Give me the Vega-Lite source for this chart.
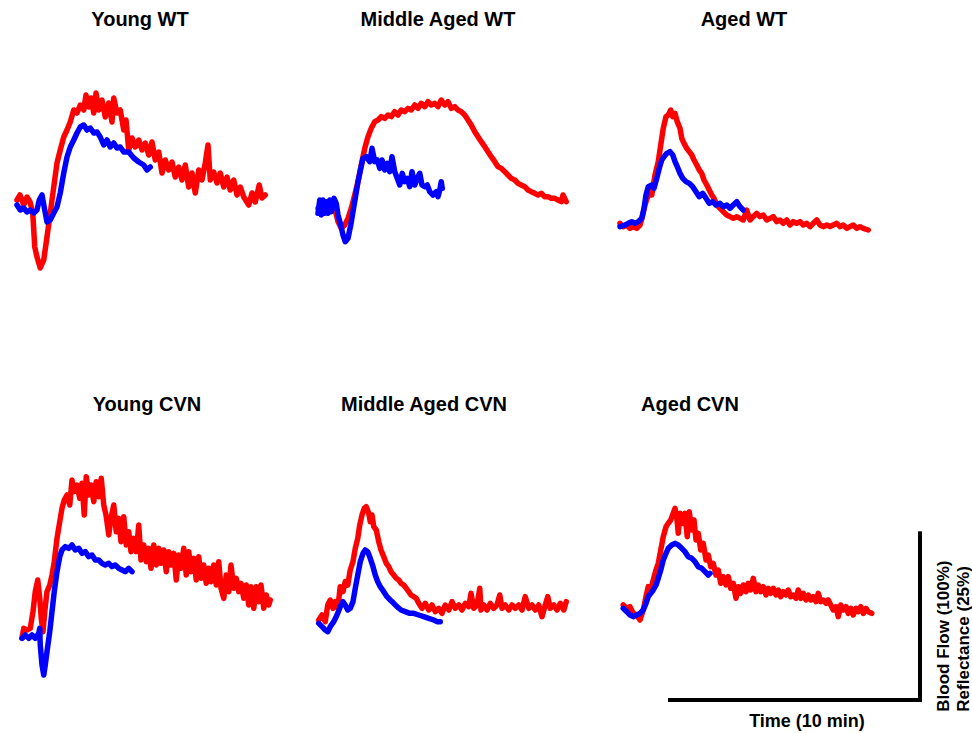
{
"$schema": "https://vega.github.io/schema/vega-lite/v6.json",
"padding": {"left": 14, "top": 10, "right": 0, "bottom": 0},
"background": "white",
"config": {
  "view": {"stroke": null},
  "line": {"strokeWidth": 5.5, "strokeJoin": "round", "strokeCap": "round"},
  "title": {"font": "Liberation Sans", "fontSize": 20, "fontWeight": "bold", "color": "#000000", "anchor": "middle", "frame": "group", "offset": 15}
},
"datasets": {
"YWT_flow": [{"t":0.04,"v":87},{"t":0.16,"v":90},{"t":0.31,"v":84},{"t":0.44,"v":88.8},{"t":0.56,"v":85.8},{"t":0.67,"v":79.2},{"t":0.75,"v":58.8},{"t":0.84,"v":52.8},{"t":0.97,"v":46.2},{"t":1.11,"v":51},{"t":1.24,"v":64.8},{"t":1.37,"v":79.2},{"t":1.51,"v":94.8},{"t":1.64,"v":109.2},{"t":1.77,"v":117},{"t":1.91,"v":124.8},{"t":2.04,"v":129},{"t":2.17,"v":133.8},{"t":2.31,"v":141},{"t":2.44,"v":139.2},{"t":2.57,"v":144},{"t":2.71,"v":141},{"t":2.8,"v":150},{"t":2.91,"v":142.8},{"t":3.01,"v":148.2},{"t":3.11,"v":139.2},{"t":3.2,"v":151.2},{"t":3.31,"v":141},{"t":3.44,"v":147},{"t":3.57,"v":136.8},{"t":3.71,"v":145.2},{"t":3.84,"v":133.8},{"t":3.91,"v":148.2},{"t":4.04,"v":139.2},{"t":4.17,"v":141},{"t":4.31,"v":129},{"t":4.4,"v":135},{"t":4.51,"v":117},{"t":4.64,"v":124.2},{"t":4.77,"v":118.8},{"t":4.91,"v":123},{"t":5.04,"v":117},{"t":5.17,"v":121.2},{"t":5.31,"v":114},{"t":5.44,"v":121.8},{"t":5.57,"v":111},{"t":5.71,"v":115.8},{"t":5.84,"v":103.2},{"t":5.97,"v":111},{"t":6.11,"v":105},{"t":6.24,"v":109.8},{"t":6.37,"v":100.8},{"t":6.51,"v":106.8},{"t":6.64,"v":99},{"t":6.77,"v":108},{"t":6.91,"v":94.8},{"t":7.04,"v":103.2},{"t":7.17,"v":91.2},{"t":7.31,"v":105},{"t":7.44,"v":99},{"t":7.57,"v":109.2},{"t":7.68,"v":120},{"t":7.77,"v":99},{"t":7.91,"v":103.8},{"t":8.04,"v":97.2},{"t":8.17,"v":103.2},{"t":8.31,"v":94.8},{"t":8.44,"v":100.8},{"t":8.57,"v":93},{"t":8.71,"v":99},{"t":8.84,"v":90},{"t":8.97,"v":94.8},{"t":9.11,"v":88.8},{"t":9.31,"v":84},{"t":9.44,"v":91.2},{"t":9.57,"v":85.8},{"t":9.73,"v":96},{"t":9.84,"v":88.2},{"t":9.97,"v":90}],
"YWT_refl": [{"t":0.04,"v":84},{"t":0.17,"v":81},{"t":0.31,"v":82.2},{"t":0.44,"v":79.8},{"t":0.57,"v":81},{"t":0.71,"v":79.2},{"t":0.84,"v":81},{"t":0.93,"v":87},{"t":1.04,"v":90},{"t":1.15,"v":81},{"t":1.24,"v":73.8},{"t":1.37,"v":75},{"t":1.51,"v":79.2},{"t":1.64,"v":82.8},{"t":1.77,"v":91.2},{"t":1.91,"v":103.2},{"t":2.04,"v":112.8},{"t":2.17,"v":118.8},{"t":2.31,"v":123},{"t":2.44,"v":127.2},{"t":2.57,"v":130.8},{"t":2.71,"v":132},{"t":2.84,"v":129},{"t":2.97,"v":130.2},{"t":3.11,"v":127.2},{"t":3.24,"v":127.8},{"t":3.37,"v":124.8},{"t":3.51,"v":120},{"t":3.64,"v":123},{"t":3.77,"v":118.8},{"t":3.91,"v":121.2},{"t":4.04,"v":118.2},{"t":4.17,"v":118.8},{"t":4.31,"v":115.8},{"t":4.51,"v":115.8},{"t":4.71,"v":112.2},{"t":4.91,"v":109.8},{"t":5.11,"v":108},{"t":5.24,"v":105},{"t":5.37,"v":106.8}],
"MAWT_flow": [{"t":0,"v":82},{"t":0.4,"v":83},{"t":0.67,"v":82},{"t":0.8,"v":74},{"t":0.93,"v":70},{"t":1.07,"v":72},{"t":1.2,"v":76},{"t":1.33,"v":82},{"t":1.47,"v":90},{"t":1.6,"v":98},{"t":1.73,"v":108},{"t":1.87,"v":118},{"t":2,"v":125},{"t":2.13,"v":130},{"t":2.27,"v":134},{"t":2.4,"v":135},{"t":2.53,"v":137},{"t":2.67,"v":136},{"t":2.8,"v":138},{"t":2.93,"v":137},{"t":3.07,"v":140},{"t":3.2,"v":138},{"t":3.33,"v":141},{"t":3.47,"v":140},{"t":3.6,"v":142},{"t":3.73,"v":141},{"t":3.87,"v":144},{"t":4,"v":142},{"t":4.13,"v":145},{"t":4.27,"v":143},{"t":4.4,"v":146},{"t":4.53,"v":144},{"t":4.67,"v":145},{"t":4.8,"v":143},{"t":4.93,"v":147},{"t":5.07,"v":144},{"t":5.2,"v":146},{"t":5.33,"v":142},{"t":5.47,"v":143},{"t":5.6,"v":141},{"t":5.73,"v":140},{"t":5.87,"v":138},{"t":6,"v":135},{"t":6.13,"v":132},{"t":6.27,"v":128},{"t":6.4,"v":125},{"t":6.53,"v":122},{"t":6.67,"v":119},{"t":6.8,"v":116},{"t":6.93,"v":113},{"t":7.07,"v":110},{"t":7.2,"v":107},{"t":7.33,"v":106},{"t":7.47,"v":104},{"t":7.6,"v":102},{"t":7.73,"v":100},{"t":7.87,"v":99},{"t":8,"v":97},{"t":8.13,"v":96},{"t":8.27,"v":95},{"t":8.4,"v":93},{"t":8.53,"v":92},{"t":8.67,"v":91},{"t":8.8,"v":90},{"t":8.93,"v":91},{"t":9.07,"v":89},{"t":9.2,"v":89},{"t":9.33,"v":88},{"t":9.47,"v":88},{"t":9.6,"v":87},{"t":9.73,"v":86},{"t":9.8,"v":90},{"t":9.93,"v":86}],
"MAWT_refl": [{"t":0,"v":79},{"t":0.07,"v":87},{"t":0.13,"v":78},{"t":0.2,"v":87},{"t":0.27,"v":79},{"t":0.33,"v":86},{"t":0.4,"v":79},{"t":0.47,"v":87},{"t":0.53,"v":80},{"t":0.64,"v":88},{"t":0.73,"v":85},{"t":0.8,"v":78},{"t":0.91,"v":72},{"t":1,"v":66},{"t":1.09,"v":62},{"t":1.2,"v":64},{"t":1.31,"v":72},{"t":1.4,"v":80},{"t":1.49,"v":88},{"t":1.6,"v":98},{"t":1.71,"v":106},{"t":1.8,"v":112},{"t":1.93,"v":113},{"t":2.07,"v":110},{"t":2.16,"v":118},{"t":2.27,"v":110},{"t":2.37,"v":111},{"t":2.47,"v":106},{"t":2.56,"v":111},{"t":2.67,"v":105},{"t":2.77,"v":109},{"t":2.87,"v":104},{"t":2.96,"v":113},{"t":3.07,"v":104},{"t":3.17,"v":100},{"t":3.27,"v":96},{"t":3.37,"v":103},{"t":3.47,"v":98},{"t":3.57,"v":100},{"t":3.67,"v":95},{"t":3.76,"v":104},{"t":3.87,"v":96},{"t":3.97,"v":100},{"t":4.07,"v":103},{"t":4.16,"v":96},{"t":4.27,"v":95},{"t":4.37,"v":96},{"t":4.47,"v":92},{"t":4.6,"v":90},{"t":4.73,"v":92},{"t":4.8,"v":89},{"t":4.87,"v":93},{"t":4.93,"v":98},{"t":4.97,"v":94}],
"AWT_flow": [{"t":0,"v":73},{"t":0.13,"v":71},{"t":0.27,"v":72},{"t":0.4,"v":70},{"t":0.53,"v":71},{"t":0.67,"v":70},{"t":0.8,"v":72},{"t":0.91,"v":78},{"t":1,"v":84},{"t":1.13,"v":90},{"t":1.27,"v":90},{"t":1.4,"v":102},{"t":1.53,"v":110},{"t":1.63,"v":120},{"t":1.73,"v":130},{"t":1.84,"v":137},{"t":1.93,"v":138},{"t":2.03,"v":141},{"t":2.11,"v":137},{"t":2.2,"v":139},{"t":2.29,"v":134},{"t":2.4,"v":130},{"t":2.47,"v":124},{"t":2.56,"v":121},{"t":2.67,"v":118},{"t":2.77,"v":116},{"t":2.87,"v":114},{"t":2.96,"v":111},{"t":3.07,"v":108},{"t":3.17,"v":105},{"t":3.27,"v":103},{"t":3.36,"v":99},{"t":3.47,"v":96},{"t":3.57,"v":93},{"t":3.67,"v":90},{"t":3.76,"v":88},{"t":3.87,"v":84},{"t":4,"v":82},{"t":4.13,"v":80},{"t":4.27,"v":78},{"t":4.4,"v":77},{"t":4.53,"v":76},{"t":4.67,"v":77},{"t":4.8,"v":76},{"t":4.93,"v":75},{"t":5.07,"v":81},{"t":5.2,"v":75},{"t":5.33,"v":77},{"t":5.47,"v":79},{"t":5.6,"v":77},{"t":5.73,"v":78},{"t":5.87,"v":75},{"t":6,"v":76},{"t":6.13,"v":77},{"t":6.27,"v":74},{"t":6.4,"v":75},{"t":6.53,"v":73},{"t":6.67,"v":75},{"t":6.8,"v":72},{"t":6.93,"v":74},{"t":7.07,"v":73},{"t":7.2,"v":74},{"t":7.33,"v":72},{"t":7.47,"v":73},{"t":7.6,"v":71},{"t":7.73,"v":73},{"t":7.87,"v":75},{"t":8,"v":72},{"t":8.13,"v":71},{"t":8.27,"v":72},{"t":8.4,"v":71},{"t":8.53,"v":72},{"t":8.67,"v":73},{"t":8.8,"v":71},{"t":8.93,"v":72},{"t":9.07,"v":70},{"t":9.2,"v":71},{"t":9.33,"v":72},{"t":9.47,"v":70},{"t":9.6,"v":71},{"t":9.73,"v":70},{"t":9.93,"v":69}],
"AWT_refl": [{"t":0,"v":71},{"t":0.2,"v":72},{"t":0.33,"v":73},{"t":0.47,"v":74},{"t":0.6,"v":73},{"t":0.73,"v":74},{"t":0.87,"v":76},{"t":0.96,"v":82},{"t":1.04,"v":90},{"t":1.13,"v":95},{"t":1.27,"v":96},{"t":1.36,"v":94},{"t":1.47,"v":100},{"t":1.57,"v":106},{"t":1.67,"v":111},{"t":1.76,"v":113},{"t":1.87,"v":115},{"t":2,"v":116},{"t":2.11,"v":114},{"t":2.2,"v":110},{"t":2.29,"v":107},{"t":2.4,"v":103},{"t":2.51,"v":100},{"t":2.64,"v":98},{"t":2.77,"v":97},{"t":2.91,"v":95},{"t":3.04,"v":92},{"t":3.17,"v":89},{"t":3.31,"v":91},{"t":3.44,"v":88},{"t":3.57,"v":85},{"t":3.71,"v":86},{"t":3.84,"v":84},{"t":4,"v":85},{"t":4.13,"v":83},{"t":4.27,"v":84},{"t":4.4,"v":82},{"t":4.53,"v":84},{"t":4.67,"v":86},{"t":4.8,"v":83},{"t":4.93,"v":81}],
"YCVN_flow": [{"t":0.24,"v":55},{"t":0.31,"v":61},{"t":0.44,"v":60},{"t":0.57,"v":61},{"t":0.68,"v":71},{"t":0.77,"v":83},{"t":0.87,"v":90},{"t":0.95,"v":79},{"t":1.01,"v":67},{"t":1.08,"v":59},{"t":1.15,"v":71},{"t":1.24,"v":83},{"t":1.35,"v":87},{"t":1.44,"v":93},{"t":1.53,"v":101},{"t":1.64,"v":115},{"t":1.75,"v":125},{"t":1.84,"v":133},{"t":1.93,"v":138},{"t":2.04,"v":141},{"t":2.15,"v":135},{"t":2.24,"v":150},{"t":2.33,"v":143},{"t":2.44,"v":147},{"t":2.55,"v":139},{"t":2.64,"v":148},{"t":2.73,"v":129},{"t":2.81,"v":152},{"t":2.91,"v":141},{"t":3,"v":147},{"t":3.11,"v":137},{"t":3.21,"v":149},{"t":3.31,"v":140},{"t":3.41,"v":151},{"t":3.51,"v":135},{"t":3.6,"v":129},{"t":3.71,"v":117},{"t":3.8,"v":127},{"t":3.91,"v":135},{"t":4.01,"v":119},{"t":4.11,"v":127},{"t":4.2,"v":113},{"t":4.31,"v":128},{"t":4.41,"v":111},{"t":4.51,"v":119},{"t":4.6,"v":107},{"t":4.71,"v":115},{"t":4.81,"v":107},{"t":4.91,"v":123},{"t":5,"v":102},{"t":5.11,"v":111},{"t":5.21,"v":101},{"t":5.31,"v":109},{"t":5.4,"v":97},{"t":5.51,"v":111},{"t":5.61,"v":99},{"t":5.71,"v":109},{"t":5.8,"v":100},{"t":5.91,"v":108},{"t":6.01,"v":95},{"t":6.11,"v":107},{"t":6.2,"v":99},{"t":6.31,"v":106},{"t":6.41,"v":90},{"t":6.51,"v":105},{"t":6.6,"v":97},{"t":6.71,"v":109},{"t":6.81,"v":93},{"t":6.91,"v":107},{"t":7,"v":95},{"t":7.11,"v":103},{"t":7.21,"v":90},{"t":7.31,"v":104},{"t":7.4,"v":91},{"t":7.51,"v":99},{"t":7.61,"v":88},{"t":7.71,"v":97},{"t":7.8,"v":89},{"t":7.91,"v":99},{"t":8.01,"v":87},{"t":8.11,"v":101},{"t":8.2,"v":85},{"t":8.31,"v":79},{"t":8.41,"v":93},{"t":8.51,"v":83},{"t":8.6,"v":99},{"t":8.71,"v":85},{"t":8.81,"v":91},{"t":8.91,"v":83},{"t":9,"v":88},{"t":9.11,"v":79},{"t":9.21,"v":87},{"t":9.31,"v":75},{"t":9.4,"v":86},{"t":9.51,"v":73},{"t":9.61,"v":86},{"t":9.71,"v":77},{"t":9.8,"v":87},{"t":9.91,"v":73},{"t":10.01,"v":81},{"t":10.11,"v":75},{"t":10.17,"v":78}],
"YCVN_refl": [{"t":0.24,"v":55},{"t":0.37,"v":57},{"t":0.51,"v":55},{"t":0.64,"v":57},{"t":0.77,"v":55},{"t":0.91,"v":58},{"t":0.95,"v":61},{"t":0.97,"v":51},{"t":1.04,"v":39},{"t":1.11,"v":33},{"t":1.17,"v":39},{"t":1.24,"v":47},{"t":1.35,"v":59},{"t":1.44,"v":71},{"t":1.53,"v":83},{"t":1.64,"v":95},{"t":1.75,"v":104},{"t":1.84,"v":108},{"t":1.97,"v":110},{"t":2.11,"v":109},{"t":2.24,"v":111},{"t":2.37,"v":108},{"t":2.51,"v":109},{"t":2.64,"v":106},{"t":2.77,"v":107},{"t":2.91,"v":104},{"t":3.04,"v":105},{"t":3.17,"v":102},{"t":3.31,"v":102},{"t":3.44,"v":100},{"t":3.57,"v":99},{"t":3.71,"v":100},{"t":3.84,"v":98},{"t":3.97,"v":99},{"t":4.11,"v":97},{"t":4.24,"v":96},{"t":4.37,"v":95},{"t":4.51,"v":97},{"t":4.64,"v":95}],
"MACVN_flow": [{"t":0.03,"v":66},{"t":0.16,"v":69},{"t":0.29,"v":65},{"t":0.39,"v":75},{"t":0.49,"v":78},{"t":0.6,"v":73},{"t":0.69,"v":77},{"t":0.79,"v":73},{"t":0.89,"v":86},{"t":1,"v":83},{"t":1.09,"v":89},{"t":1.19,"v":87},{"t":1.29,"v":96},{"t":1.4,"v":101},{"t":1.49,"v":109},{"t":1.59,"v":115},{"t":1.67,"v":123},{"t":1.76,"v":129},{"t":1.85,"v":133},{"t":1.93,"v":134},{"t":2.03,"v":130},{"t":2.09,"v":125},{"t":2.16,"v":129},{"t":2.23,"v":122},{"t":2.33,"v":120},{"t":2.43,"v":113},{"t":2.52,"v":108},{"t":2.63,"v":104},{"t":2.73,"v":100},{"t":2.83,"v":98},{"t":2.92,"v":95},{"t":3.03,"v":93},{"t":3.13,"v":91},{"t":3.23,"v":90},{"t":3.32,"v":88},{"t":3.43,"v":87},{"t":3.53,"v":85},{"t":3.63,"v":83},{"t":3.72,"v":81},{"t":3.83,"v":80},{"t":3.93,"v":79},{"t":4.03,"v":76},{"t":4.16,"v":73},{"t":4.29,"v":76},{"t":4.43,"v":72},{"t":4.56,"v":75},{"t":4.69,"v":71},{"t":4.83,"v":73},{"t":4.96,"v":70},{"t":5.09,"v":75},{"t":5.23,"v":72},{"t":5.36,"v":77},{"t":5.49,"v":73},{"t":5.63,"v":75},{"t":5.76,"v":72},{"t":5.89,"v":76},{"t":6.03,"v":74},{"t":6.12,"v":82},{"t":6.23,"v":73},{"t":6.36,"v":75},{"t":6.47,"v":85},{"t":6.52,"v":72},{"t":6.63,"v":75},{"t":6.76,"v":72},{"t":6.89,"v":76},{"t":7.03,"v":73},{"t":7.16,"v":75},{"t":7.27,"v":81},{"t":7.36,"v":73},{"t":7.49,"v":75},{"t":7.63,"v":72},{"t":7.76,"v":75},{"t":7.89,"v":73},{"t":8.03,"v":75},{"t":8.16,"v":72},{"t":8.29,"v":80},{"t":8.43,"v":73},{"t":8.56,"v":75},{"t":8.69,"v":72},{"t":8.83,"v":75},{"t":8.96,"v":68},{"t":9.09,"v":75},{"t":9.19,"v":80},{"t":9.29,"v":73},{"t":9.43,"v":75},{"t":9.56,"v":72},{"t":9.69,"v":76},{"t":9.83,"v":72},{"t":9.93,"v":77}],
"MACVN_refl": [{"t":0.03,"v":64},{"t":0.16,"v":62},{"t":0.29,"v":60},{"t":0.39,"v":59},{"t":0.49,"v":62},{"t":0.63,"v":65},{"t":0.76,"v":69},{"t":0.89,"v":74},{"t":1,"v":77},{"t":1.09,"v":75},{"t":1.19,"v":72},{"t":1.29,"v":73},{"t":1.4,"v":77},{"t":1.49,"v":85},{"t":1.59,"v":93},{"t":1.69,"v":101},{"t":1.8,"v":106},{"t":1.89,"v":108},{"t":1.99,"v":107},{"t":2.09,"v":103},{"t":2.2,"v":98},{"t":2.29,"v":93},{"t":2.39,"v":89},{"t":2.49,"v":86},{"t":2.63,"v":83},{"t":2.76,"v":80},{"t":2.89,"v":78},{"t":3.03,"v":76},{"t":3.16,"v":74},{"t":3.32,"v":72},{"t":3.49,"v":71},{"t":3.67,"v":70},{"t":3.83,"v":70},{"t":4.03,"v":69},{"t":4.23,"v":68},{"t":4.43,"v":67},{"t":4.63,"v":66},{"t":4.76,"v":65},{"t":4.89,"v":65}],
"ACVN_flow": [{"t":0.13,"v":75},{"t":0.27,"v":73},{"t":0.4,"v":74},{"t":0.53,"v":70},{"t":0.67,"v":69},{"t":0.8,"v":66},{"t":0.93,"v":72},{"t":1.04,"v":80},{"t":1.13,"v":86},{"t":1.23,"v":84},{"t":1.33,"v":90},{"t":1.44,"v":96},{"t":1.53,"v":100},{"t":1.63,"v":108},{"t":1.73,"v":116},{"t":1.84,"v":122},{"t":1.93,"v":124},{"t":2.03,"v":126},{"t":2.13,"v":130},{"t":2.2,"v":133},{"t":2.27,"v":128},{"t":2.33,"v":118},{"t":2.4,"v":130},{"t":2.51,"v":124},{"t":2.6,"v":130},{"t":2.69,"v":116},{"t":2.77,"v":131},{"t":2.87,"v":120},{"t":2.96,"v":126},{"t":3.04,"v":114},{"t":3.13,"v":118},{"t":3.23,"v":108},{"t":3.33,"v":112},{"t":3.44,"v":102},{"t":3.53,"v":105},{"t":3.63,"v":98},{"t":3.73,"v":100},{"t":3.84,"v":93},{"t":3.93,"v":96},{"t":4.03,"v":88},{"t":4.13,"v":92},{"t":4.24,"v":87},{"t":4.33,"v":92},{"t":4.43,"v":85},{"t":4.53,"v":88},{"t":4.64,"v":79},{"t":4.73,"v":86},{"t":4.83,"v":82},{"t":4.93,"v":87},{"t":5.04,"v":83},{"t":5.13,"v":88},{"t":5.23,"v":84},{"t":5.33,"v":91},{"t":5.44,"v":83},{"t":5.53,"v":87},{"t":5.63,"v":83},{"t":5.73,"v":86},{"t":5.84,"v":81},{"t":5.93,"v":85},{"t":6.03,"v":82},{"t":6.13,"v":85},{"t":6.24,"v":81},{"t":6.33,"v":84},{"t":6.43,"v":80},{"t":6.53,"v":83},{"t":6.64,"v":81},{"t":6.73,"v":84},{"t":6.83,"v":80},{"t":6.93,"v":81},{"t":7.04,"v":79},{"t":7.13,"v":84},{"t":7.23,"v":79},{"t":7.33,"v":82},{"t":7.44,"v":78},{"t":7.53,"v":81},{"t":7.63,"v":78},{"t":7.73,"v":80},{"t":7.84,"v":77},{"t":7.93,"v":82},{"t":8.03,"v":77},{"t":8.13,"v":78},{"t":8.24,"v":76},{"t":8.33,"v":78},{"t":8.43,"v":75},{"t":8.53,"v":72},{"t":8.64,"v":74},{"t":8.73,"v":68},{"t":8.83,"v":75},{"t":8.93,"v":72},{"t":9.04,"v":74},{"t":9.13,"v":70},{"t":9.23,"v":73},{"t":9.33,"v":69},{"t":9.44,"v":73},{"t":9.53,"v":71},{"t":9.63,"v":74},{"t":9.73,"v":70},{"t":9.84,"v":73},{"t":9.93,"v":71},{"t":10.07,"v":70}],
"ACVN_refl": [{"t":0.13,"v":73},{"t":0.27,"v":71},{"t":0.4,"v":69},{"t":0.53,"v":68},{"t":0.67,"v":69},{"t":0.8,"v":70},{"t":0.93,"v":72},{"t":1.04,"v":76},{"t":1.13,"v":80},{"t":1.23,"v":82},{"t":1.33,"v":84},{"t":1.44,"v":87},{"t":1.53,"v":91},{"t":1.63,"v":96},{"t":1.73,"v":102},{"t":1.84,"v":106},{"t":1.93,"v":109},{"t":2.07,"v":111},{"t":2.2,"v":112},{"t":2.33,"v":111},{"t":2.47,"v":109},{"t":2.6,"v":107},{"t":2.73,"v":104},{"t":2.87,"v":103},{"t":3,"v":101},{"t":3.13,"v":98},{"t":3.27,"v":97},{"t":3.4,"v":95},{"t":3.53,"v":93},{"t":3.6,"v":94}],
"scalebar": [{"t":2,"t2":12,"v":18,"v2":18},{"t":12,"t2":12,"v":18,"v2":118}],
"timelabel": [{"label":"Time (10 min)","t":7.48,"v":5}],
"ylabels": [{"label":"Blood Flow (100%)","t":12.96,"v":11},{"label":"Reflectance (25%)","t":13.76,"v":11}]
},
"spacing": 50,
"vconcat": [
{"hconcat": [
 {"title": {"text": "Young WT", "dx": -1}, "width": 250, "height": 300, "layer": [
  {"data": {"name": "YWT_flow"}, "mark": {"type": "line", "color": "#ff0000"}, "encoding": {"x": {"field": "t", "type": "quantitative", "scale": {"domain": [0, 10], "nice": false, "zero": false}, "axis": null}, "y": {"field": "v", "type": "quantitative", "scale": {"domain": [0, 180], "nice": false, "zero": false}, "axis": null}}},
  {"data": {"name": "YWT_refl"}, "mark": {"type": "line", "color": "#0000ff"}, "encoding": {"x": {"field": "t", "type": "quantitative"}, "y": {"field": "v", "type": "quantitative"}}}
 ]},
 {"title": {"text": "Middle Aged WT", "dx": -5}, "width": 250, "height": 300, "layer": [
  {"data": {"name": "MAWT_flow"}, "mark": {"type": "line", "color": "#ff0000"}, "encoding": {"x": {"field": "t", "type": "quantitative", "scale": {"domain": [0, 10], "nice": false, "zero": false}, "axis": null}, "y": {"field": "v", "type": "quantitative", "scale": {"domain": [0, 180], "nice": false, "zero": false}, "axis": null}}},
  {"data": {"name": "MAWT_refl"}, "mark": {"type": "line", "color": "#0000ff"}, "encoding": {"x": {"field": "t", "type": "quantitative"}, "y": {"field": "v", "type": "quantitative"}}}
 ]},
 {"title": {"text": "Aged WT", "dx": -1}, "width": 250, "height": 300, "layer": [
  {"data": {"name": "AWT_flow"}, "mark": {"type": "line", "color": "#ff0000"}, "encoding": {"x": {"field": "t", "type": "quantitative", "scale": {"domain": [0, 10], "nice": false, "zero": false}, "axis": null}, "y": {"field": "v", "type": "quantitative", "scale": {"domain": [0, 180], "nice": false, "zero": false}, "axis": null}}},
  {"data": {"name": "AWT_refl"}, "mark": {"type": "line", "color": "#0000ff"}, "encoding": {"x": {"field": "t", "type": "quantitative"}, "y": {"field": "v", "type": "quantitative"}}}
 ]}
], "spacing": 52, "bounds": "flush"},
{"hconcat": [
 {"title": {"text": "Young CVN", "dx": 6}, "width": 250, "height": 300, "layer": [
  {"data": {"name": "YCVN_flow"}, "mark": {"type": "line", "color": "#ff0000"}, "encoding": {"x": {"field": "t", "type": "quantitative", "scale": {"domain": [0, 10], "nice": false, "zero": false}, "axis": null}, "y": {"field": "v", "type": "quantitative", "scale": {"domain": [0, 180], "nice": false, "zero": false}, "axis": null}}},
  {"data": {"name": "YCVN_refl"}, "mark": {"type": "line", "color": "#0000ff"}, "encoding": {"x": {"field": "t", "type": "quantitative"}, "y": {"field": "v", "type": "quantitative"}}}
 ]},
 {"title": {"text": "Middle Aged CVN", "dx": -19}, "width": 250, "height": 300, "layer": [
  {"data": {"name": "MACVN_flow"}, "mark": {"type": "line", "color": "#ff0000"}, "encoding": {"x": {"field": "t", "type": "quantitative", "scale": {"domain": [0, 10], "nice": false, "zero": false}, "axis": null}, "y": {"field": "v", "type": "quantitative", "scale": {"domain": [0, 180], "nice": false, "zero": false}, "axis": null}}},
  {"data": {"name": "MACVN_refl"}, "mark": {"type": "line", "color": "#0000ff"}, "encoding": {"x": {"field": "t", "type": "quantitative"}, "y": {"field": "v", "type": "quantitative"}}}
 ]},
 {"title": {"text": "Aged CVN", "dx": -55}, "width": 250, "height": 300, "layer": [
  {"data": {"name": "ACVN_flow"}, "mark": {"type": "line", "color": "#ff0000"}, "encoding": {"x": {"field": "t", "type": "quantitative", "scale": {"domain": [0, 10], "nice": false, "zero": false}, "axis": null}, "y": {"field": "v", "type": "quantitative", "scale": {"domain": [0, 180], "nice": false, "zero": false}, "axis": null}}},
  {"data": {"name": "ACVN_refl"}, "mark": {"type": "line", "color": "#0000ff"}, "encoding": {"x": {"field": "t", "type": "quantitative"}, "y": {"field": "v", "type": "quantitative"}}},
  {"data": {"name": "scalebar"}, "mark": {"type": "rule", "color": "#000000", "strokeWidth": 4, "strokeCap": "square"}, "encoding": {"x": {"field": "t", "type": "quantitative"}, "x2": {"field": "t2"}, "y": {"field": "v", "type": "quantitative"}, "y2": {"field": "v2"}}},
  {"data": {"name": "timelabel"}, "mark": {"type": "text", "font": "Liberation Sans", "fontSize": 18, "fontWeight": "bold", "align": "center", "baseline": "middle", "color": "#000000"}, "encoding": {"x": {"field": "t", "type": "quantitative"}, "y": {"field": "v", "type": "quantitative"}, "text": {"field": "label"}}},
  {"data": {"name": "ylabels"}, "mark": {"type": "text", "font": "Liberation Sans", "fontSize": 17, "fontWeight": "bold", "angle": 270, "align": "left", "baseline": "middle", "color": "#000000"}, "encoding": {"x": {"field": "t", "type": "quantitative"}, "y": {"field": "v", "type": "quantitative"}, "text": {"field": "label"}}}
 ]}
], "spacing": 52, "bounds": "flush"}
]
}
